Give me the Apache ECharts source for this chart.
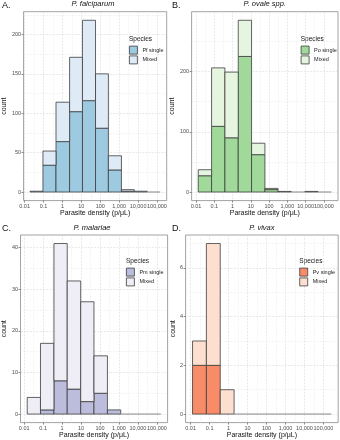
<!DOCTYPE html>
<html>
<head>
<meta charset="utf-8">
<script src="https://cdn.jsdelivr.net/npm/echarts@6/dist/echarts.min.js"></script>
<style>
html, body { margin: 0; padding: 0; background: #fff; }
#chart { width: 340px; height: 440px; }
</style>
</head>
<body>
<div id="chart"></div>
<script>
// x values are log10 of parasite density
const xTickValues = [-2, -1, 0, 1, 2, 3, 4, 5];
const xTickLabels = ['0.01', '0.1', '1', '10', '100', '1,000', '10,000', '100,000'];

const pfBinEdges = [-1.71, -1.03, -0.34, 0.38, 1.06, 1.75, 2.43, 3.12, 3.80, 4.49, 5.17];
const pfSingle = [1, 34, 64, 102, 116, 81, 28, 1, 1, 0];
const pfMixed = [0, 18, 50, 69, 102, 69, 18, 2, 0, 0];
const pfYTicks = [0, 50, 100, 150, 200];

const poBinEdges = [-1.88, -1.15, -0.42, 0.31, 1.04, 1.77, 2.49, 3.22, 3.95, 4.68, 5.41];
const poSingle = [27, 109, 90, 225, 62, 4, 1, 0, 1, 0];
const poMixed = [10, 97, 109, 60, 19, 2, 0, 0, 0, 0];
const poYTicks = [0, 100, 200];

const pmBinEdges = [-1.84, -1.14, -0.43, 0.27, 0.98, 1.68, 2.39, 3.09, 3.80, 4.50, 5.21];
const pmSingle = [0, 1, 8, 6, 3, 5, 1, 0, 0, 0];
const pmMixed = [4, 16, 33, 26, 24, 9, 0, 0, 0, 0];
const pmYTicks = [0, 10, 20, 30, 40];

const pvBinEdges = [-1.90, -1.17, -0.44, 0.29, 1.02, 1.75, 2.48, 3.21, 3.94, 4.68, 5.41];
const pvSingle = [2, 2, 0, 0, 0, 0, 0, 0, 0, 0];
const pvMixed = [1, 5, 1, 0, 0, 0, 0, 0, 0, 0];
const pvYTicks = [0, 2, 4, 6];

const font = 'Liberation Sans, Arial, sans-serif';
const outline = '#3c3c3c';

const panels = [
  { tag: 'A.', title: 'P. falciparum', single: 'Pf single', edges: pfBinEdges, s: pfSingle, m: pfMixed,
    yTicks: pfYTicks, colors: ['#9ecae1', '#deebf7'],
    box: { left: 19.3, top: 11.7, width: 147.4, height: 188.9 }, leg: [129, 45.7], yGap: 11, tagX: 2 },
  { tag: 'B.', title: 'P. ovale spp.', single: 'Po single', edges: poBinEdges, s: poSingle, m: poMixed,
    yTicks: poYTicks, colors: ['#a1d99b', '#e5f5e0'],
    box: { left: 191.6, top: 11.7, width: 146.4, height: 188.9 }, leg: [300.7, 45.7], yGap: 12, tagX: 172 },
  { tag: 'C.', title: 'P. malariae', single: 'Pm single', edges: pmBinEdges, s: pmSingle, m: pmMixed,
    yTicks: pmYTicks, colors: ['#bcbddc', '#efedf5'],
    box: { left: 16.5, top: 235, width: 151.1, height: 189.4 }, leg: [126, 267.7], yGap: 9, tagX: 2 },
  { tag: 'D.', title: 'P. vivax', single: 'Pv single', edges: pvBinEdges, s: pvSingle, m: pvMixed,
    yTicks: pvYTicks, colors: ['#f98c68', '#fddfcf'],
    box: { left: 185.6, top: 235, width: 152.6, height: 189.3 }, leg: [299.3, 267.7], yGap: 7, tagX: 172 }
];

function makeRender(fill, isMixed) {
  return function (params, api) {
    const x0 = api.value(0), x1 = api.value(1);
    const y0 = api.value(2), y1 = api.value(3), total = api.value(4);
    if (!isMixed && (total === 0 || y1 === y0)) return null;
    if (isMixed && total > 0 && y1 === y0) return null;
    const a = api.coord([x0, y1]);
    const b = api.coord([x1, y0]);
    return {
      type: 'rect',
      shape: { x: a[0], y: a[1], width: b[0] - a[0], height: b[1] - a[1] },
      style: { fill: fill, stroke: total === 0 ? '#a0a0a0' : outline, lineWidth: 0.8 }
    };
  };
}

const grid = [], xAxis = [], yAxis = [], series = [], legend = [], graphic = [];
const majorLine = { color: '#dadada', width: 0.6, type: [2, 1.2] };
const minorLine = { color: '#e9e9e9', width: 0.5, type: [2, 1.2] };
const tickLine = { color: '#444', width: 0.6 };
const labelStyle = { fontSize: 5.5, color: '#4d4d4d', fontFamily: font };
const xMinor = xTickValues.slice(0, -1).map(v => v + 0.5);

panels.forEach((p, i) => {
  const totals = p.s.map((v, k) => v + p.m[k]);
  const yTop = Math.max(...totals);
  const xSpan = p.edges[p.edges.length - 1] - p.edges[0];
  const xMin = p.edges[0] - 0.05 * xSpan;
  const xMax = p.edges[p.edges.length - 1] + 0.05 * xSpan;
  const yMin = -0.05 * yTop, yMax = yTop * 1.05;
  const step = p.yTicks[1] - p.yTicks[0];
  const yMinor = p.yTicks.map(v => v + step / 2).filter(v => v < yMax);

  grid.push(Object.assign({ show: true, borderColor: '#8a8a8a', borderWidth: 0.8, backgroundColor: '#fff' }, p.box));

  xAxis.push({
    type: 'value', gridIndex: i, min: xMin, max: xMax, position: 'bottom',
    axisLine: { show: false, onZero: false },
    axisTick: { show: true, length: 2, lineStyle: tickLine, customValues: xTickValues },
    axisLabel: { customValues: xTickValues, margin: 2.5, ...labelStyle,
      formatter: v => xTickLabels[xTickValues.indexOf(Math.round(v))] },
    splitLine: { show: true, lineStyle: majorLine },
    name: 'Parasite density (p/\u03bcL)', nameLocation: 'middle', nameGap: 8,
    nameTextStyle: { fontSize: 7, color: '#111', fontFamily: font }
  });
  xAxis.push({
    type: 'value', gridIndex: i, min: xMin, max: xMax, position: 'top',
    axisLine: { show: false, onZero: false },
    axisTick: { show: false, customValues: xMinor },
    axisLabel: { show: false, customValues: xMinor },
    splitLine: { show: true, lineStyle: minorLine }
  });
  yAxis.push({
    type: 'value', gridIndex: i, min: yMin, max: yMax, position: 'left',
    axisLine: { show: false, onZero: false },
    axisTick: { show: true, length: 2, lineStyle: tickLine, customValues: p.yTicks },
    axisLabel: { customValues: p.yTicks, margin: 2.5, ...labelStyle },
    splitLine: { show: true, lineStyle: majorLine },
    name: 'count', nameLocation: 'middle', nameGap: p.yGap,
    nameTextStyle: { fontSize: 7, color: '#111', fontFamily: font }
  });
  yAxis.push({
    type: 'value', gridIndex: i, min: yMin, max: yMax, position: 'right',
    axisLine: { show: false, onZero: false },
    axisTick: { show: false, customValues: yMinor },
    axisLabel: { show: false, customValues: yMinor },
    splitLine: { show: true, lineStyle: minorLine }
  });

  const bins = p.s.map((v, k) => k);
  series.push({
    type: 'custom', name: p.single, xAxisIndex: 2 * i, yAxisIndex: 2 * i, silent: true,
    itemStyle: { color: p.colors[0] },
    renderItem: makeRender(p.colors[0], false),
    encode: { x: [0, 1], y: [2, 3] },
    data: bins.map(k => [p.edges[k], p.edges[k + 1], 0, p.s[k], totals[k]])
  });
  series.push({
    type: 'custom', name: 'Mixed', xAxisIndex: 2 * i, yAxisIndex: 2 * i, silent: true,
    itemStyle: { color: p.colors[1] },
    renderItem: makeRender(p.colors[1], true),
    encode: { x: [0, 1], y: [2, 3] },
    data: bins.map(k => [p.edges[k], p.edges[k + 1], p.s[k], totals[k], totals[k]])
  });

  legend.push({
    left: p.leg[0], top: p.leg[1], orient: 'vertical', icon: 'rect',
    itemWidth: 8, itemHeight: 8, itemGap: 1, padding: 0, selectedMode: false,
    textStyle: { fontSize: 5.5, color: '#222', fontFamily: font },
    data: [
      { name: p.single, itemStyle: { color: p.colors[0], borderColor: outline, borderWidth: 0.8 } },
      { name: 'Mixed', itemStyle: { color: p.colors[1], borderColor: outline, borderWidth: 0.8 } }
    ]
  });

  const titleY = p.box.top - 7.5;
  graphic.push({
    type: 'text', x: p.tagX, y: titleY + 1,
    style: { text: p.tag, font: '9px ' + font, fill: '#111', verticalAlign: 'middle' }
  });
  graphic.push({
    type: 'text', x: p.box.left + p.box.width / 2, y: titleY,
    style: { text: p.title, font: 'italic 7.5px ' + font, fill: '#111', align: 'center', verticalAlign: 'middle' }
  });
  graphic.push({
    type: 'text', x: p.leg[0], y: p.leg[1] - 6.5,
    style: { text: 'Species', font: '6.5px ' + font, fill: '#111', verticalAlign: 'middle' }
  });
});

const chart = echarts.init(document.getElementById('chart'), null, { renderer: 'canvas' });
chart.setOption({
  animation: false,
  backgroundColor: '#fff',
  textStyle: { fontFamily: font },
  grid, xAxis, yAxis, series, legend, graphic
});
</script>
</body>
</html>
